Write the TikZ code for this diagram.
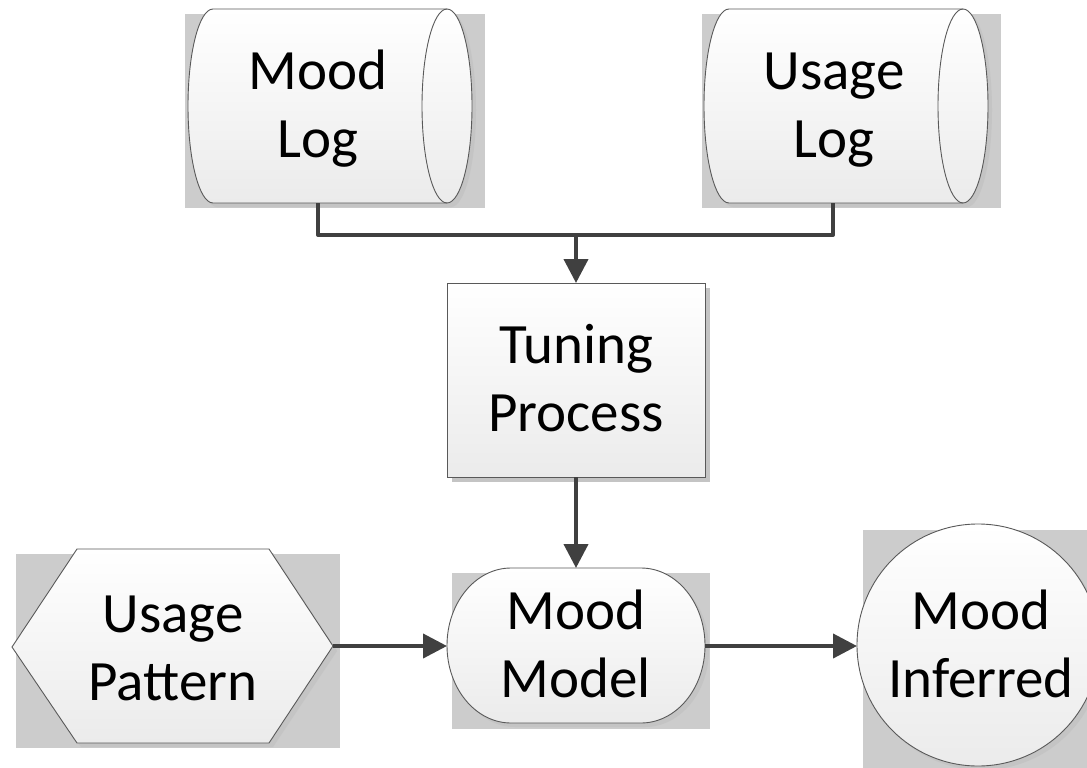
\documentclass[tikz,border=0pt]{standalone}
\usepackage{fontspec}
\setmainfont{Carlito}
\usetikzlibrary{arrows.meta}

\definecolor{wire}{HTML}{404040}
\definecolor{rim}{HTML}{595959}
\definecolor{backdrop}{HTML}{CCCCCC}
\definecolor{drop}{HTML}{C4C4C4}
\definecolor{fillbot}{HTML}{EBEBEB}

\tikzset{
  plate/.style={fill=backdrop, draw=none},
  castshadow/.style={fill=drop, draw=none},
  body/.style={draw=rim, line width=0.9pt, top color=white, bottom color=fillbot},
  rimline/.style={draw=rim, line width=0.9pt},
  % base anchor of a two-line text sits on the baseline of its last line
  txt/.style={font=\fontsize{57}{68}\selectfont, align=center, inner sep=0pt, anchor=base},
  flow/.style={draw=wire, line width=4pt, line join=round},
  arrowflow/.style={flow, -{Triangle[length=24pt,width=24pt]}},
}

\begin{document}
\begin{tikzpicture}[x=1pt,y=-1pt]
\useasboundingbox (0,0) rectangle (1087,768);
\clip (0,0) rectangle (1087,768);

% ---- Mood Log (drum) ----
\fill[plate] (185,14) rectangle (485,208);
\path[castshadow] (217,13) -- (451,13)
  arc[start angle=-90,end angle=90,x radius=25,y radius=97] -- (217,207)
  arc[start angle=90,end angle=270,x radius=25,y radius=97] -- cycle;
\path[body] (213,9) -- (447,9)
  arc[start angle=-90,end angle=90,x radius=25,y radius=97] -- (213,203)
  arc[start angle=90,end angle=270,x radius=25,y radius=97] -- cycle;
\draw[rimline] (447,9) arc[start angle=270,end angle=90,x radius=25,y radius=97];
\node[txt] (moodlog) at (318,157) {Mood\\Log};
\coordinate (moodlog-out) at (318,203);

% ---- Usage Log (drum) ----
\fill[plate] (702,14) rectangle (1001,208);
\path[castshadow] (733,13) -- (967,13)
  arc[start angle=-90,end angle=90,x radius=25,y radius=97] -- (733,207)
  arc[start angle=90,end angle=270,x radius=25,y radius=97] -- cycle;
\path[body] (729,9) -- (963,9)
  arc[start angle=-90,end angle=90,x radius=25,y radius=97] -- (729,203)
  arc[start angle=90,end angle=270,x radius=25,y radius=97] -- cycle;
\draw[rimline] (963,9) arc[start angle=270,end angle=90,x radius=25,y radius=97];
\node[txt] (usagelog) at (834,157) {Usage\\Log};
\coordinate (usagelog-out) at (833,203);

% ---- Tuning Process (box) ----
\fill[drop] (452,288) rectangle (710,482);
\path[body] (447,283) rectangle (705,477);
\node[txt] (tuning) at (576,431) {Tuning\\Process};
\coordinate (tuning-in) at (576,283);
\coordinate (tuning-out) at (576,477);

% ---- Usage Pattern (hexagon) ----
\fill[plate] (16,554) rectangle (340,748);
\path[castshadow] (16,651) -- (81,553) -- (273,553) -- (337,651) -- (273,747) -- (81,747) -- cycle;
\path[body] (12,647) -- (77,549) -- (269,549) -- (333,646) -- (269,743) -- (77,743) -- cycle;
\node[txt] (pattern) at (173,700) {Usage\\Pattern};
\coordinate (pattern-out) at (333,646);

% ---- Mood Model (terminator) ----
\fill[plate] (452,573) rectangle (710,729);
\path[castshadow] (515,572) -- (645,572)
  arc[start angle=-90,end angle=90,x radius=64,y radius=77.5] -- (515,727)
  arc[start angle=90,end angle=270,x radius=64,y radius=77.5] -- cycle;
\path[body] (511,568) -- (641,568)
  arc[start angle=-90,end angle=90,x radius=64,y radius=77.5] -- (511,723)
  arc[start angle=90,end angle=270,x radius=64,y radius=77.5] -- cycle;
\node[txt] (model) at (576,697) {Mood\\Model};
\coordinate (model-in) at (576,568);
\coordinate (model-left) at (447,646);
\coordinate (model-right) at (705,646);

% ---- Mood Inferred (circle) ----
\fill[plate] (863,530) rectangle (1090,770);
\fill[drop] (982,649) circle[radius=121];
\path[body] (978,645) circle[radius=121];
\node[txt] (inferred) at (981,697) {Mood\\Inferred};
\coordinate (inferred-in) at (857,646);

% ---- connectors ----
\coordinate (bus) at (576,235);
\draw[flow] (moodlog-out) |- (bus) -| (usagelog-out);
\draw[arrowflow] (bus) -- (tuning-in);
\draw[arrowflow] (tuning-out) -- (model-in);
\draw[arrowflow] (pattern-out) -- (model-left);
\draw[arrowflow] (model-right) -- (inferred-in);
\end{tikzpicture}
\end{document}
